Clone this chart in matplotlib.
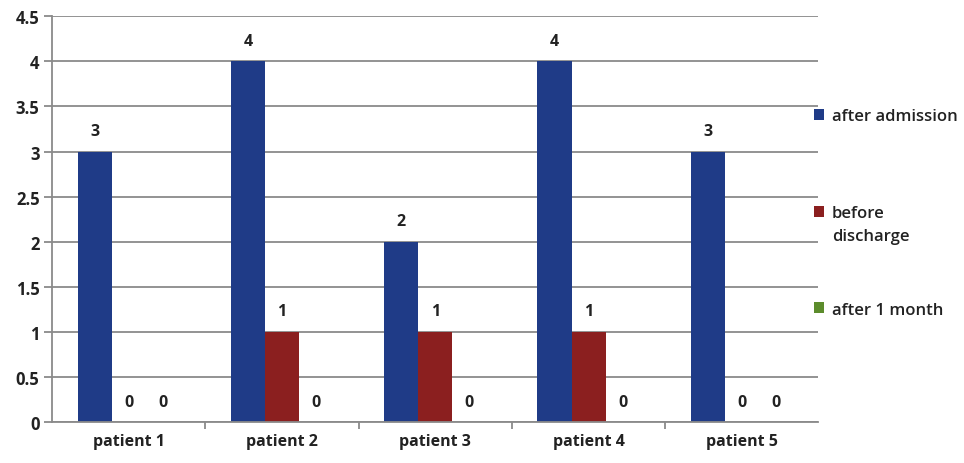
import numpy as np
import matplotlib.pyplot as plt
from matplotlib.ticker import FixedLocator

plt.rcParams['font.family'] = ['Open Sans', 'DejaVu Sans']

patients = ['patient 1', 'patient 2', 'patient 3', 'patient 4', 'patient 5']
after_admission = [3, 4, 2, 4, 3]
before_discharge = [0, 1, 1, 1, 0]
after_1_month = [0, 0, 0, 0, 0]
y_ticks = [0, 0.5, 1, 1.5, 2, 2.5, 3, 3.5, 4, 4.5]

series = [
    ('after admission', after_admission, '#1f3b87'),
    ('before', before_discharge, '#8b1f1f'),
    ('after 1 month', after_1_month, '#5c8c2c'),
]

fig = plt.figure(figsize=(9.64, 4.64), dpi=100)
ax = fig.add_axes([0.054, 0.088, 0.795, 0.875])

x = np.arange(len(patients))
w = 0.222
for k, (name, vals, col) in enumerate(series):
    bars = ax.bar(x + (k - 1) * w, vals, w, color=col, label=name, linewidth=0)
    ax.bar_label(bars, padding=9, fontsize=11.5, fontweight='bold', color='#222222')

ax.set_xlim(-0.5, len(patients) - 0.5)
ax.set_ylim(0, 4.5)
ax.set_yticks(y_ticks)
ax.set_yticklabels([f'{v:g}' for v in y_ticks])
ax.grid(axis='y', color='#8a8a8a', linewidth=1.3)
ax.set_axisbelow(True)

ax.set_xticks(x)
ax.set_xticklabels(patients, fontsize=11.5, fontweight='bold', color='#222222')
ax.xaxis.set_minor_locator(FixedLocator(np.arange(0.5, len(patients) - 1, 1)))
ax.tick_params(axis='x', which='major', length=0, pad=8)
ax.tick_params(axis='x', which='minor', length=5, color='#8a8a8a', width=1.3)
ax.tick_params(axis='y', length=6, color='#8a8a8a', width=1.3, pad=3,
               labelsize=12, labelcolor='#222222')
for t in ax.get_yticklabels():
    t.set_fontweight('bold')

for s in ['top', 'right']:
    ax.spines[s].set_visible(False)
for s in ['left', 'bottom']:
    ax.spines[s].set_color('#8a8a8a')
    ax.spines[s].set_linewidth(1.3)

leg_font = {'size': 12, 'weight': 'semibold'}
leg = ax.legend(loc='upper left', bbox_to_anchor=(0.985, 0.79), frameon=False,
                prop=leg_font, handlelength=0.65, handleheight=0.65,
                handletextpad=0.45, labelspacing=4.85, borderaxespad=0)
for t in leg.get_texts():
    t.set_color('#222222')

# second line of the "before discharge" entry, kept under the first line
# so the colour box lines up with "before"; zorder above the legend so it
# is drawn once the legend text has its position
ax.annotate('discharge', xy=(0, 0), xycoords=leg.get_texts()[1],
            xytext=(0, -13.7), textcoords='offset points', va='baseline',
            color='#222222', fontsize=12, fontweight='semibold',
            annotation_clip=False, zorder=10)

fig.savefig('out.png', dpi=100)
